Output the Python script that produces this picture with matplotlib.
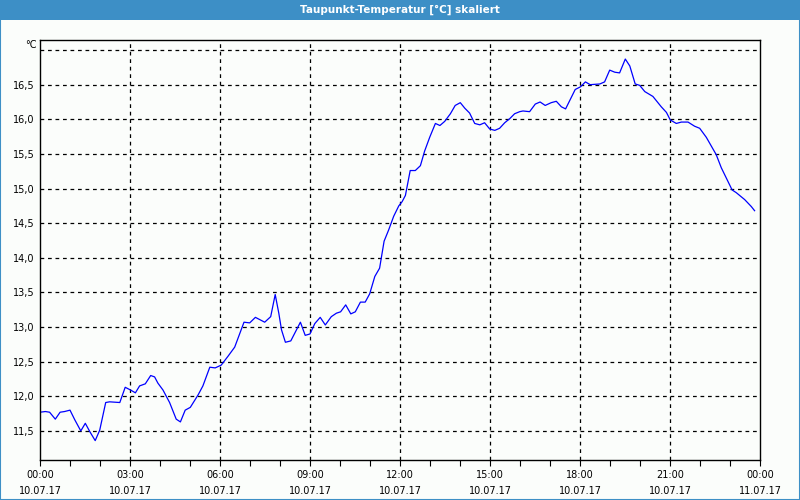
import matplotlib
matplotlib.use("Agg")
import matplotlib.pyplot as plt
from matplotlib.patches import Rectangle


# Stunden seit 10.07.17 00:00
hours = [0.0, 0.18, 0.32, 0.51, 0.67, 0.82, 1.0, 1.16, 1.36, 1.51, 1.66, 1.84, 1.99,
         2.19, 2.32, 2.66, 2.84, 3.02, 3.18, 3.32, 3.51, 3.69, 3.82, 3.93, 4.10,
         4.32, 4.54, 4.68, 4.84, 5.01, 5.27, 5.43, 5.66, 5.84, 6.04, 6.27, 6.49,
         6.80, 6.99, 7.18, 7.49, 7.69, 7.84, 7.96, 8.05, 8.18, 8.36, 8.68, 8.84,
         9.0, 9.16, 9.34, 9.51, 9.71, 9.88, 10.02, 10.19, 10.36, 10.51, 10.68,
         10.84, 10.99, 11.16, 11.32, 11.47, 11.62, 11.79, 11.96, 12.07, 12.18,
         12.34, 12.51, 12.68, 12.82, 12.99, 13.18, 13.33, 13.49, 13.68, 13.84,
         14.01, 14.16, 14.32, 14.49, 14.66, 14.82, 14.99, 15.16, 15.32, 15.49,
         15.66, 15.82, 15.99, 16.10, 16.32, 16.51, 16.67, 16.84, 17.04, 17.21,
         17.38, 17.52, 17.68, 17.84, 18.02, 18.18, 18.34, 18.66, 18.82, 18.99,
         19.16, 19.32, 19.51, 19.66, 19.84, 19.99, 20.16, 20.43, 20.6, 20.71,
         20.88, 21.01, 21.21, 21.38, 21.6, 21.82, 21.99, 22.21, 22.54, 22.71,
         22.88, 23.07, 23.21, 23.49, 23.71, 23.82]

taupunkt = [11.77, 11.78, 11.77, 11.67, 11.77, 11.78, 11.80, 11.66, 11.50, 11.61,
            11.49, 11.36, 11.51, 11.91, 11.92, 11.91, 12.13, 12.09, 12.05, 12.15,
            12.18, 12.30, 12.28, 12.19, 12.09, 11.91, 11.67, 11.63, 11.80, 11.84,
            12.02, 12.15, 12.42, 12.41, 12.45, 12.58, 12.71, 13.07, 13.06, 13.14,
            13.07, 13.15, 13.47, 13.20, 12.96, 12.78, 12.80, 13.07, 12.88, 12.90,
            13.05, 13.14, 13.03, 13.15, 13.20, 13.22, 13.32, 13.19, 13.22, 13.36,
            13.36, 13.48, 13.73, 13.85, 14.24, 14.40, 14.60, 14.75, 14.81, 14.90,
            15.26, 15.26, 15.33, 15.54, 15.74, 15.94, 15.91, 15.97, 16.08, 16.20,
            16.24, 16.16, 16.09, 15.94, 15.92, 15.95, 15.86, 15.84, 15.87, 15.95,
            16.01, 16.08, 16.11, 16.12, 16.11, 16.22, 16.25, 16.20, 16.24, 16.26,
            16.18, 16.15, 16.29, 16.43, 16.47, 16.54, 16.50, 16.51, 16.54, 16.71,
            16.68, 16.67, 16.87, 16.77, 16.51, 16.49, 16.40, 16.33, 16.24, 16.18,
            16.10, 15.99, 15.94, 15.96, 15.96, 15.90, 15.87, 15.74, 15.49, 15.30,
            15.15, 14.98, 14.94, 14.84, 14.74, 14.68]

xtick_pos = [0, 3, 6, 9, 12, 15, 18, 21, 24]
xtick_labels = ["00:00\n10.07.17", "03:00\n10.07.17", "06:00\n10.07.17",
                "09:00\n10.07.17", "12:00\n10.07.17", "15:00\n10.07.17",
                "18:00\n10.07.17", "21:00\n10.07.17", "00:00\n11.07.17"]
ytick_pos = [11.5, 12.0, 12.5, 13.0, 13.5, 14.0, 14.5, 15.0, 15.5, 16.0, 16.5]
ytick_labels = ["11,5", "12,0", "12,5", "13,0", "13,5", "14,0", "14,5",
                "15,0", "15,5", "16,0", "16,5"]

blau = "#3d8fc6"
hintergrund = "#fbfdfb"

fig = plt.figure(figsize=(8, 5), dpi=100, facecolor=hintergrund)

# Titelleiste und Rahmen
fig.patches.append(Rectangle((0, 0.96), 1, 0.04, transform=fig.transFigure,
                             facecolor=blau, edgecolor="none", zorder=0))
fig.patches.append(Rectangle((0.0006, 0.001), 0.9988, 0.998, transform=fig.transFigure,
                             facecolor="none", edgecolor=blau, linewidth=1.5, zorder=0))
fig.text(0.5, 0.98, "Taupunkt-Temperatur [°C] skaliert", color="white",
         ha="center", va="center", fontsize=7.5, fontweight="bold")

ax = fig.add_axes([0.05, 0.08, 0.9, 0.84])
ax.set_facecolor(hintergrund)
ax.plot(hours, taupunkt, color="#0000ff", linewidth=0.9)

ax.set_xlim(0, 24)
ax.set_ylim(11.08, 17.145)

ax.set_xticks(xtick_pos)
ax.set_xticklabels(xtick_labels, fontsize=7, linespacing=1.8)
ax.set_xticks(range(0, 25), minor=True)
ax.tick_params(axis="x", which="both", direction="out", length=4, width=0.8, pad=3)

ax.set_yticks(ytick_pos)
ax.set_yticklabels(ytick_labels, fontsize=7)
ax.tick_params(axis="y", length=0, pad=4)

# Gitter
for x in xtick_pos[1:-1]:
    ax.axvline(x, color="black", linestyle=(0, (3, 3)), linewidth=0.9, zorder=1)
for y in ytick_pos + [17.0]:
    ax.axhline(y, color="black", linestyle=(0, (3, 3)), linewidth=0.9, zorder=1)

for s in ax.spines.values():
    s.set_linewidth(1.0)

ax.text(-0.004, 17.07, "°C", transform=ax.get_yaxis_transform(),
        ha="right", va="center", fontsize=7)

plt.savefig("out.png", dpi=100, facecolor=hintergrund)
